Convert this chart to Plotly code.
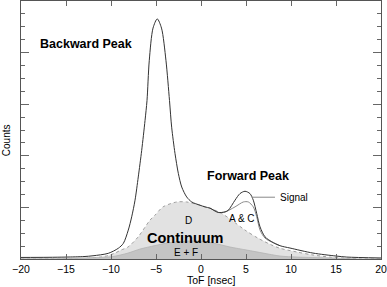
import plotly.graph_objects as go

# ---- data ----
tof_total = [-20, -17, -15, -13, -12, -10.3, -9.19, -8.63, -8.08, -7.70, -7.33, -6.97, -6.59, -6.22,
             -6.0, -5.75, -5.33, -4.86, -4.39, -3.89, -3.5, -3.26, -2.89, -2.52, -2.14, -1.59, -1.03,
             -0.11, 0.44, 1.0, 1.92, 2.67, 3.03, 3.78, 4.33, 4.89, 5.44, 5.81, 6.19, 6.56, 7.11, 7.86,
             8.78, 9.89, 12.44, 15, 16.2, 20]
counts_total = [0.12, 0.13, 0.15, 0.19, 0.25, 0.44, 0.83, 1.21, 2.24, 3.27, 4.56, 6.36, 8.42, 10.73,
                12.28, 15.37, 17.9, 18.61, 17.9, 15.37, 12.28, 10.22, 8.19, 6.64, 5.58, 4.81, 4.42,
                4.17, 4.04, 3.94, 3.61, 3.65, 3.78, 4.56, 5.07, 5.25, 5.07, 4.56, 3.53, 2.49, 1.72, 1.34,
                1.03, 0.85, 0.46, 0.23, 0.15, 0.08]

tof_ac = [1.0, 1.92, 2.67, 3.78, 4.70, 5.26, 5.81, 6.19, 6.56, 7.11, 7.86, 8.78]
counts_ac = [3.94, 3.61, 3.65, 4.04, 4.42, 4.42, 4.04, 3.27, 2.24, 1.62, 1.31, 1.03]

tof_d = [-20, -13, -11.2, -10.3, -9.56, -8.9, -8.11, -7.0, -5.67, -5.11, -4.22, -2.70, -1.59, -0.11,
         0.44, 1.0, 2.3, 3.41, 4.89, 6.37, 7.86, 8.78, 10.67, 12.44, 14.3, 16.2, 17.7, 20]
counts_d = [0.0, 0.04, 0.15, 0.27, 0.46, 0.69, 0.93, 1.70, 3.01, 3.40, 4.04, 4.42, 4.42, 4.17,
            4.04, 3.94, 3.53, 3.01, 2.24, 1.6, 1.08, 0.83, 0.54, 0.31, 0.15, 0.05, 0.0, 0.0]

tof_ef = [-20, -15, -11.8, -9.89, -8.11, -6.78, -5.11, -3.78, -1.56, -0.11, 1.33, 3.22, 5.11, 6.89,
          8.78, 10.67, 14.3, 17.7, 20]
counts_ef = [0.02, 0.04, 0.12, 0.18, 0.46, 0.77, 1.04, 1.24, 1.39, 1.39, 1.24, 0.93, 0.69, 0.46,
             0.23, 0.15, 0.08, 0.0, 0.0]

x_ticks = [-20, -15, -10, -5, 0, 5, 10, 15, 20]

FONT = "Liberation Sans, Arial, sans-serif"

fig = go.Figure()
fig.add_trace(go.Scatter(x=tof_d, y=counts_d, mode="lines", fill="tozeroy",
                         fillcolor="#e2e2e2", line=dict(color="#a0a0a0", width=1, dash="dot",
                                                        shape="spline", smoothing=0.8),
                         hoverinfo="skip"))
fig.add_trace(go.Scatter(x=tof_ef, y=counts_ef, mode="lines", fill="tozeroy",
                         fillcolor="#c4c4c4", line=dict(color="#b4b4b4", width=0.8,
                                                        shape="spline", smoothing=0.8),
                         hoverinfo="skip"))
fig.add_trace(go.Scatter(x=tof_ac, y=counts_ac, mode="lines",
                         line=dict(color="#8a8a8a", width=1, shape="spline", smoothing=0.8),
                         hoverinfo="skip"))
fig.add_trace(go.Scatter(x=tof_total, y=counts_total, mode="lines",
                         line=dict(color="#333333", width=1, shape="spline", smoothing=0.8),
                         hoverinfo="skip"))

def lab(x, y, text, size, bold=False, xanchor="center"):
    fig.add_annotation(x=x, y=y, text=f"<b>{text}</b>" if bold else text, showarrow=False,
                       font=dict(family=FONT, size=size, color="black"), xanchor=xanchor)

lab(-12.78, 16.68, "Backward Peak", 12.5, True)
lab(5.22, 6.41, "Forward Peak", 12.5, True)
lab(-1.67, 1.62, "Continuum", 14.5, True)
lab(-1.44, 3.01, "D", 10)
lab(-1.67, 0.54, "E + F", 10)
lab(4.56, 3.17, "A & C", 10)
lab(8.5, 4.79, "Signal", 10, xanchor="left")

fig.add_shape(type="line", x0=5.67, x1=8.22, y0=4.79, y1=4.79,
              line=dict(color="#888888", width=1))

fig.add_annotation(xref="paper", yref="paper", x=0.528, y=-0.081, text="ToF [nsec]",
                   showarrow=False, xanchor="center", yanchor="middle",
                   font=dict(family=FONT, size=10.5, color="black"))
fig.add_annotation(xref="paper", yref="paper", x=-0.042, y=0.46, text="Counts",
                   showarrow=False, textangle=-90, xanchor="center", yanchor="middle",
                   font=dict(family=FONT, size=10, color="black"))

fig.update_layout(
    width=387, height=287,
    margin=dict(l=21, r=6, t=1, b=28),
    paper_bgcolor="white", plot_bgcolor="white",
    showlegend=False,
    font=dict(family=FONT, size=10, color="black"),
    xaxis=dict(range=[-20, 20], tickvals=x_ticks, ticks="inside", ticklen=5,
               tickcolor="#666", showline=True, linecolor="#555", linewidth=1,
               mirror="ticks", showgrid=False, zeroline=False,
               tickfont=dict(family=FONT, size=10.5, color="black")),
    yaxis=dict(range=[0, 20], dtick=4, tick0=0, ticks="inside", ticklen=8,
               tickcolor="#666", showticklabels=False, showline=True, linecolor="#555",
               linewidth=1, mirror="ticks", showgrid=False, zeroline=False,
               minor=dict(dtick=1, ticks="inside", ticklen=4, tickcolor="#666", showgrid=False)),
)

fig.write_html("out.html", config={"displayModeBar": False},
               post_script="document.body.style.margin='0px';")
